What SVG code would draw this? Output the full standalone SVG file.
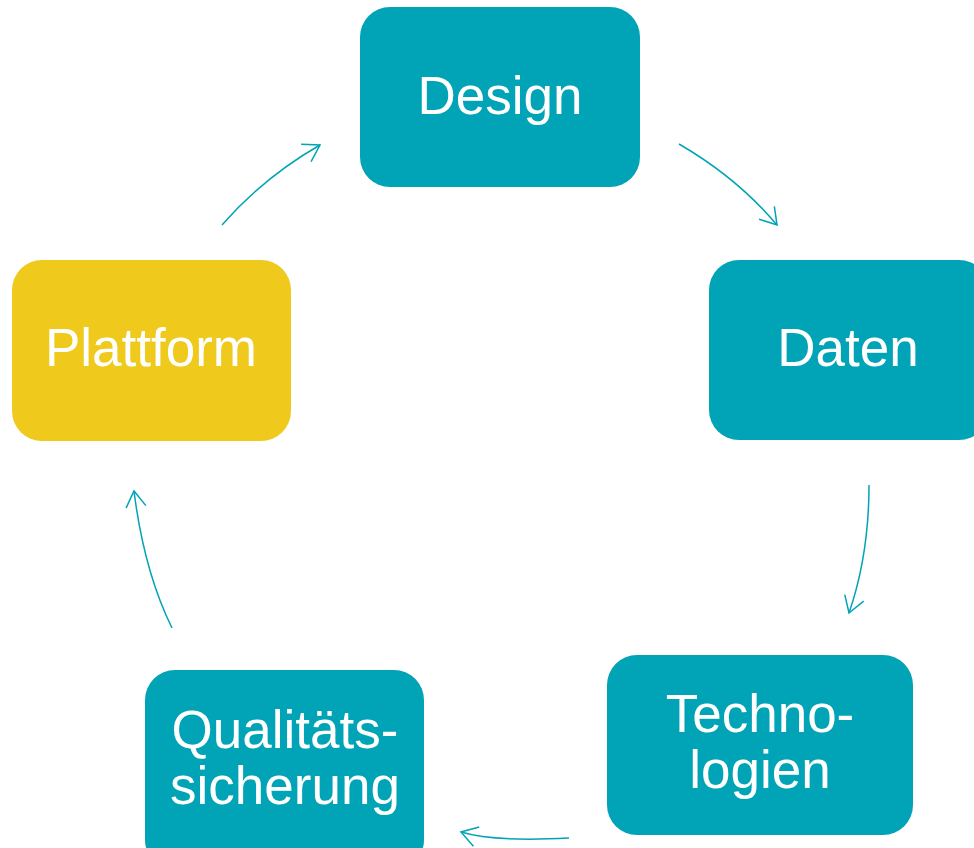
<svg xmlns="http://www.w3.org/2000/svg" width="974" height="848" viewBox="0 0 974 848">
<defs>
<style>
.box{fill:#00A4B6}
.yel{fill:#EFCA1C}
.lbl{font-family:"Liberation Sans",Arial,sans-serif;font-size:53px;fill:#ffffff;text-anchor:middle}
.arr{fill:none;stroke:#00A4B6;stroke-width:1.5;marker-end:url(#head)}
</style>
<marker id="head" markerUnits="userSpaceOnUse" viewBox="-18 -12 20 24" refX="0" refY="0" markerWidth="20" markerHeight="24" orient="auto">
<path d="M-16,-10 L0,0 L-16,10" fill="none" stroke="#00A4B6" stroke-width="1.5"/>
</marker>
</defs>
<rect width="974" height="848" fill="#ffffff"/>
<g id="connectors">
<path class="arr" d="M679,144 Q737.5,178 777,225"/>
<path class="arr" d="M869,485 Q869,555 849,613"/>
<path class="arr" d="M569,838 Q494,842 461,832"/>
<path class="arr" d="M172,628 Q144,571 134,491"/>
<path class="arr" d="M222,225 Q264,177 320,145"/>
</g>
<g id="node-design">
<rect class="box" x="360" y="7" width="280" height="180" rx="30"/>
<text class="lbl" x="500" y="114">Design</text>
</g>
<g id="node-daten">
<rect class="box" x="709" y="260" width="280" height="180" rx="30"/>
<text class="lbl" x="848" y="366">Daten</text>
</g>
<g id="node-technologien">
<rect class="box" x="607" y="655" width="306" height="180" rx="30"/>
<text class="lbl" x="760" y="732">Techno-</text>
<text class="lbl" x="760" y="788">logien</text>
</g>
<g id="node-qualitaetssicherung">
<rect class="box" x="145" y="670" width="279" height="200" rx="30"/>
<text class="lbl" x="285" y="748">Qualitäts-</text>
<text class="lbl" x="285" y="804">sicherung</text>
</g>
<g id="node-plattform">
<rect class="yel" x="12" y="260" width="279" height="181" rx="30"/>
<text class="lbl" x="151" y="366">Plattform</text>
</g>
</svg>
